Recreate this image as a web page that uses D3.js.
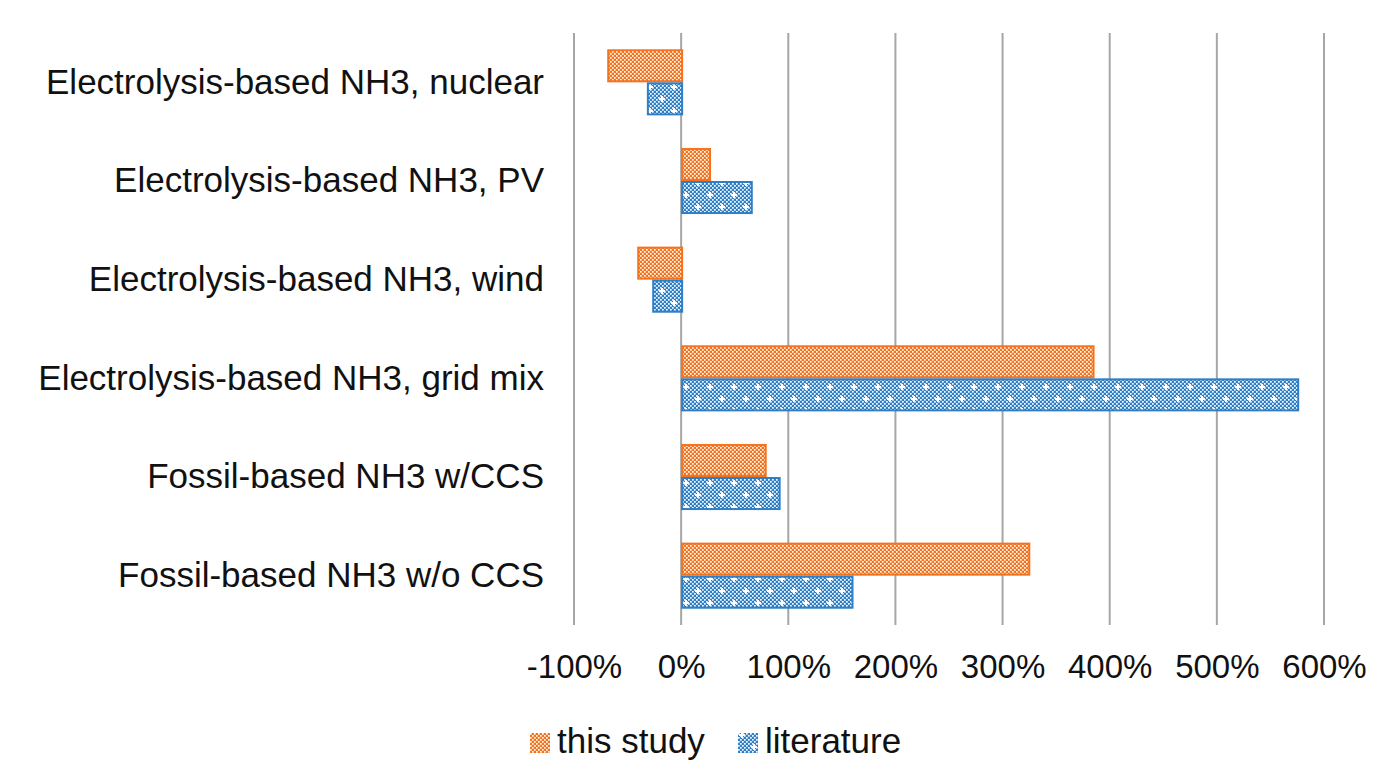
<!DOCTYPE html>
<html>
<head>
<meta charset="utf-8">
<script src="https://cdn.jsdelivr.net/npm/d3@7"></script>
<style>
  body { margin: 0; background: #fff; }
  text { font-family: "Liberation Sans", Arial, sans-serif; fill: #111; }
</style>
</head>
<body>
<div id="chart"></div>
<script>
'use strict';

const categories = [
    "Electrolysis-based NH3, nuclear",
    "Electrolysis-based NH3, PV",
    "Electrolysis-based NH3, wind",
    "Electrolysis-based NH3, grid mix",
    "Fossil-based NH3 w/CCS",
    "Fossil-based NH3 w/o CCS"
];
const seriesNames = ["this study", "literature"];
const thisStudy = [-69, 26, -41, 384, 78, 324];
const literature = [-32, 65, -27, 575, 91, 159];
const tickValues = [-100, 0, 100, 200, 300, 400, 500, 600];

const W = 1398, H = 774;
let margin = { top: 33, right: 74, bottom: 149, left: 574 },
    width = W - margin.left - margin.right,
    height = H - margin.top - margin.bottom;

let svg = d3.select("#chart").append("svg")
    .attr("width", W)
    .attr("height", H);

// patterns
let defs = svg.append("defs");

function checker(id, color) {
    let p = defs.append("pattern")
        .attr("id", id)
        .attr("patternUnits", "userSpaceOnUse")
        .attr("width", 4).attr("height", 4);
    p.append("rect").attr("width", 4).attr("height", 4).attr("fill", color);
    p.append("rect").attr("x", 0).attr("y", 0).attr("width", 1.7).attr("height", 1.7).attr("fill", "#fff");
    p.append("rect").attr("x", 2).attr("y", 2).attr("width", 1.7).attr("height", 1.7).attr("fill", "#fff");
    return p;
}
checker("patOrange", "#f4731f");
checker("patBlueBase", "#2f7fc6");
let pb = defs.append("pattern")
    .attr("id", "patBlue")
    .attr("patternUnits", "userSpaceOnUse")
    .attr("width", 24).attr("height", 24);
pb.append("rect").attr("width", 24).attr("height", 24).attr("fill", "url(#patBlueBase)");
[[4, 6], [16, 18]].forEach(c => {
    pb.append("rect").attr("x", c[0] - 3).attr("y", c[1] - 1).attr("width", 6).attr("height", 2).attr("fill", "#fff");
    pb.append("rect").attr("x", c[0] - 1).attr("y", c[1] - 3).attr("width", 2).attr("height", 6).attr("fill", "#fff");
});

let g = svg.append("g")
    .attr("transform", "translate(" + margin.left + "," + margin.top + ")");

let x = d3.scaleLinear()
    .domain([-100, 600])
    .range([0, 750]);

let y = d3.scaleBand()
    .domain(categories)
    .range([0, height])
    .paddingInner(0.33)
    .paddingOuter(0.165);

let ySub = d3.scaleBand()
    .domain(seriesNames)
    .range([0, y.bandwidth()]);

// gridlines
g.selectAll(".grid")
    .data(tickValues)
    .enter().append("line")
    .attr("class", "grid")
    .attr("x1", d => x(d)).attr("x2", d => x(d))
    .attr("y1", 0).attr("y2", height)
    .attr("stroke", "#a6a6a6")
    .attr("stroke-width", 2);

// x tick labels
let xAxis = d3.axisBottom(x)
    .tickValues(tickValues)
    .tickSize(0)
    .tickFormat(d => d + "%");

g.append("g")
    .attr("class", "x axis")
    .attr("transform", "translate(0," + height + ")")
    .call(xAxis)
    .call(a => a.select(".domain").remove())
    .selectAll("text")
    .style("font-size", "33px")
    .attr("y", 53)
    .attr("dy", "0");

// category labels
let yAxis = d3.axisLeft(y)
    .tickSize(0)
    .tickPadding(30);

g.append("g")
    .attr("class", "y axis")
    .call(yAxis)
    .call(a => a.select(".domain").remove())
    .selectAll("text")
    .style("font-size", "35px");

// bars
let rows = categories.map((c, i) => ({ cat: c, vals: [thisStudy[i], literature[i]] }));
let fills = ["url(#patOrange)", "url(#patBlue)"];
let strokes = ["#f4731f", "#2f7fc6"];

rows.forEach(r => {
    r.vals.forEach((v, j) => {
        g.append("rect")
            .attr("class", "bar")
            .attr("x", Math.min(x(0), x(v)) + 1)
            .attr("y", y(r.cat) + ySub(seriesNames[j]) + 1)
            .attr("width", Math.abs(x(v) - x(0)))
            .attr("height", ySub.bandwidth() - 2)
            .attr("fill", fills[j])
            .attr("stroke", strokes[j])
            .attr("stroke-width", 2);
    });
});

// legend
let legend = svg.append("g").attr("transform", "translate(530,753)");
let lx = [0, 208];
seriesNames.forEach((s, j) => {
    let lg = legend.append("g").attr("transform", "translate(" + lx[j] + ",0)");
    lg.append("rect")
        .attr("x", 0).attr("y", -20)
        .attr("width", 20).attr("height", 20)
        .attr("fill", fills[j]);
    lg.append("text")
        .attr("x", 27).attr("y", 0)
        .style("font-size", "35px")
        .text(s);
});
</script>
</body>
</html>
